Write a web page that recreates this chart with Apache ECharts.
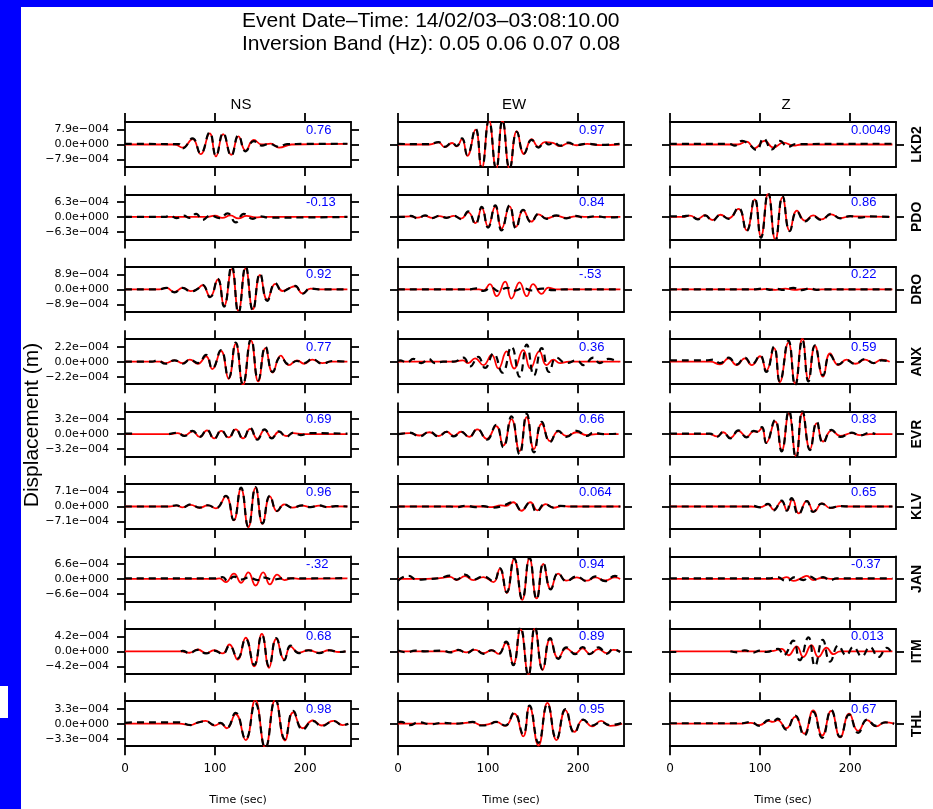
<!DOCTYPE html>
<html>
<head>
<meta charset="utf-8">
<script src="https://cdn.jsdelivr.net/npm/echarts@6/dist/echarts.min.js"></script>
<style>
  html, body { margin: 0; padding: 0; background: #ffffff; }
  #chart { width: 933px; height: 809px; }
</style>
</head>
<body>
<div id="chart"></div>
<script>
// ---- Stations (rows), components (columns) ----
const stations = ['LKD2', 'PDO', 'DRO', 'ANX', 'EVR', 'KLV', 'JAN', 'ITM', 'THL'];
const components = ['NS', 'EW', 'Z'];
// reference amplitude per station, units of 1e-4 m (tick label value)
const refAmp = [7.9, 6.3, 8.9, 2.2, 3.2, 7.1, 6.6, 4.2, 3.3];
// waveform fit values printed in each panel
const corrNS = ['0.76', '-0.13', '0.92', '0.77', '0.69', '0.96', '-.32', '0.68', '0.98'];
const corrEW = ['0.97', '0.84', '-.53', '0.36', '0.66', '0.064', '0.94', '0.89', '0.95'];
const corrZ  = ['0.0049', '0.86', '0.22', '0.59', '0.83', '0.65', '-0.37', '0.013', '0.67'];
const timeTicks = [0, 100, 200];

// ---- Traces: flat [time (s), displacement (1e-4 m)] pairs; null pair = gap ----
// observed (black dashed) and synthetic (red) for each station / component
const lkd2NsObs = [0,0.3, 60,0.2, 64,-2.0, 75,3.2, 84,-4.7, 94,6.3, 101,-6.0, 109,6.0, 118,-5.9, 126,4.8, 134,-3.6, 143,1.8, 152,-0.6, 160,0.3, 171,-1.2, 180,0.2, 200,0.3, 247,0.4];
const lkd2NsSyn = [0,0, 55,0, 64,-1.6, 75,2.8, 84,-5.1, 94,5.9, 101,-6.3, 109,5.5, 118,-5.5, 126,4.3, 134,-3.2, 143,2.4, 152,0, 162,0.5, 171,-1.6, 185,0, 247,0.3];
const lkd2EwObs = [0,0.3, 35,0.2, 45,1.3, 52,-1.2, 60,1.0, 65,-0.8, 71,3.2, 77,-5.5, 86,8.3, 93,-12.8, 101,12.8, 109,-12.8, 116,12.8, 124,-12.8, 132,6.6, 140,-4.7, 148.5,2.4, 156,-1.6, 163,1.0, 168,0, 173,1.2, 180,-0.6, 189,1.0, 198,-0.3, 210,0.4, 225,-0.2, 246,0.4];
const lkd2EwSyn = [0,0, 35,0, 45,1.1, 52,-1.4, 60,0.8, 65,-1.0, 71,2.8, 77,-6.0, 86,7.8, 93,-12.5, 101,12.8, 109,-12.8, 116,12.5, 124,-12.8, 132,7.0, 140,-5.0, 148.5,2.8, 156,-1.2, 163,1.3, 172,0.8, 180,-0.9, 189,0.6, 198,-0.4, 210,0.3, 225,-0.3, 246,0];
const lkd2ZObs  = [0,0.3, 66,0.3, 72,-0.6, 80,1.9, 88,0, 96,-2.9, 104,3.2, 113,-2.6, 122,1.9, 131,-1.2, 140,0.2, 247,0.4];
const lkd2ZSyn  = [0,0, 75,0, 85,1.5, 94,-2.0, 105,1.9, 115,-1.6, 126,1.0, 137,-0.6, 146,0, 247,0];

const pdoNsObs = [0,0, 44,0, 50,0.6, 57,-0.5, 65,0.5, 72,-0.4, 79,1.3, 86,-1.3, 95,0.6, 105,-0.5, 114,1.5, 123,-2.3, 132,1.3, 142,-0.8, 149,0.3, 160,-0.3, 247,0];
const pdoNsSyn = [0,0, 90,0, 100,0.5, 108,-0.4, 117,0.6, 126,-0.6, 135,0.4, 145,-0.2, 155,0, 247,0];
const pdoEwObs = [0,0, 10,0, 14,0.4, 22,-0.6, 30,0.6, 38,-0.5, 46,0.5, 54,-0.4, 62,0.5, 70,-0.9, 78,2.3, 86,-3.0, 93,4.2, 100,-4.5, 108,4.8, 115,-5.7, 124,4.8, 131,-4.8, 139,3.0, 148,-2.3, 156,1.3, 165,-0.8, 176,0.6, 187,-0.6, 197,0.4, 207,-0.3, 220,0.3, 232,-0.2, 247,0];
const pdoEwSyn = [0,0, 14,0.2, 22,-0.3, 30,0.4, 38,-0.4, 46,0.3, 54,-0.3, 62,0.4, 70,-0.7, 78,1.9, 86,-2.6, 93,3.8, 100,-4.1, 108,4.3, 115,-4.9, 124,4.4, 131,-4.2, 139,2.8, 148,-2.0, 156,1.1, 165,-0.6, 176,0.4, 187,-0.4, 197,0.2, 210,0, 247,0];
const pdoZObs  = [0,0.2, 14,0.2, 22,0.6, 31,-1.0, 39,0.6, 47,-1.6, 56,0.8, 65,-0.8, 76,3.8, 85,-6.0, 94,7.8, 101,-8.8, 109,10.2, 117,-10.2, 125,8.7, 133,-6.0, 141,2.3, 150,-1.9, 159,0.3, 168,-1.3, 179,1.3, 189,-0.6, 200,0.3, 211,-0.3, 222,0.2, 244,0];
const pdoZSyn  = [0,0, 14,0, 22,0.5, 31,-0.8, 39,0.7, 47,-1.3, 56,0.9, 65,-0.6, 76,3.4, 85,-5.6, 94,7.4, 101,-8.2, 109,9.8, 117,-9.6, 125,8.2, 133,-5.8, 141,2.6, 150,-1.6, 159,0.6, 168,-1.0, 179,1.1, 189,-0.5, 200,0.2, 244,0];

const droNsObs = [0,0, 38,0, 46,0.9, 55,-1.8, 64,0.9, 73,-1.3, 80,0, 86,2.7, 94.5,-4.7, 103,6.2, 110,-10.3, 118.5,14.0, 126,-14.0, 134,13.6, 142,-12.5, 150,9.3, 158,-6.9, 167,3.6, 175,-1.3, 182,0.5, 189,2.0, 197,-2.7, 206,0.5, 215,0, 247,0];
const droNsSyn = [0,0, 38,0, 46,0.8, 55,-1.6, 64,0.8, 73,-1.1, 80,0, 86,2.4, 94.5,-4.4, 103,5.8, 110,-9.8, 118.5,12.0, 126,-12.8, 134,12.4, 142,-11.8, 150,8.6, 158,-6.2, 167,3.2, 175,-1.0, 182,0.6, 189,1.8, 197,-2.4, 206,0.4, 215,0, 247,0];
const droEwObs = [0,0, 80,0, 87,0.6, 95,-0.9, 104,1.0, 111.5,-1.1, 121,0.9, 130,-0.8, 139,0.7, 148.5,-0.7, 160,0.4, 172.6,-0.5, 185,0, 247,0];
const droEwSyn = [0,0, 90,0, 95,-0.6, 102,3.1, 109.6,-4.1, 119,4.5, 126,-5.5, 135,4.1, 143,-4.1, 150,3.1, 159.6,-2.7, 167,1.0, 175,0, 247,0];
const droZObs  = [0,0, 95,0, 103.7,0.5, 111,-0.3, 118.5,0.3, 126,-0.4, 137,0.8, 146,-0.5, 155.5,0.5, 163,-0.3, 172,0, 247,0];
const droZSyn  = [0,0, 100,0, 108,0.3, 117,-0.3, 128,0.4, 138,-0.3, 150,0.3, 162,-0.2, 175,0, 247,0];

const anxNsObs = [0,0, 30,0, 36,0.2, 45,-0.3, 55,0.2, 64,-0.3, 72,0.3, 81,-0.2, 90,1.0, 97,-1.0, 106.6,1.7, 115,-2.4, 123,2.8, 131,-3.3, 140,3.3, 148,-2.7, 156,2.2, 164,-1.5, 173,0.7, 182,-0.4, 191,0.1, 199,-0.2, 208,0.4, 219,-0.3, 230,0.1, 247,0];
const anxNsSyn = [0,0, 40,0, 45,-0.2, 55,0.2, 64,-0.2, 72,0.3, 81,-0.3, 90,0.8, 97,-1.1, 106.6,1.6, 115,-2.5, 123,2.6, 131,-3.4, 140,3.1, 148,-2.9, 156,2.0, 164,-1.6, 173,0.9, 182,-0.5, 191,0.2, 199,-0.3, 208,0.3, 219,-0.2, 230,0, 247,0];
const anxEwObs = [0,0, 2,0.2, 10,-0.1, 17,0.4, 26,-0.2, 34,0.4, 41,-0.2, 50,0, 62,0, 72.6,0.6, 80,-0.7, 89,0.7, 96.7,-0.9, 106,1.2, 116,-1.6, 126,2.2, 135,-2.2, 143,2.5, 151,-2.0, 159.6,2.0, 168,-1.5, 176,0.6, 187,-0.2, 198.5,0.2, 206,-0.5, 217,0.6, 224,-0.2, 233.7,0.4, 245,-0.1];
const anxEwSyn = [0,0, 60,0, 72,0.2, 78,-0.2, 85.6,0.5, 94.8,-0.5, 104,1.0, 111.5,-1.0, 120.7,1.5, 129,-1.0, 139,1.7, 147,-1.0, 157,1.5, 165,-0.5, 172.6,0.3, 180,-0.2, 190,0, 247,0];
const anxZObs  = [0,0.2, 40,0.2, 48,0.3, 55.5,-0.2, 65,0.6, 74,-0.4, 83,0.6, 90.7,-0.4, 100,0.9, 107,-1.5, 115.5,2.2, 122,-2.9, 131.5,3.1, 139,-3.5, 147,3.2, 153.7,-2.9, 161,2.4, 170,-2.0, 177.8,1.0, 187,-0.4, 196,0.2, 205.6,-0.3, 216.7,0.4, 226,-0.2, 235,0.2, 244,0];
const anxZSyn  = [0,0, 45,0, 55.5,-0.4, 65,0.5, 74,-0.5, 83,0.5, 90.7,-0.5, 100,0.8, 107,-1.3, 115.5,2.0, 122,-3.0, 131.5,2.8, 139,-3.2, 147,3.4, 153.7,-2.6, 161,2.3, 170,-2.2, 177.8,1.2, 187,-0.5, 196,0.3, 205.6,-0.3, 216.7,0.3, 226,-0.2, 235,0.3, 244,0];

const evrNsObs = [0,0.1, 9,0.1, null,null, 49,0, 58,0.3, 66,-0.4, 75,0.7, 83,-0.6, 91,0.9, 99,-1.0, 107,0.8, 115,-0.8, 123,1.1, 131,-1.0, 139,1.3, 147,-1.2, 155,1.0, 163,-0.9, 171,0.6, 179,-0.6, 187,0.3, 195,-0.2, 205,0.2, 247,0.1];
const evrNsSyn = [0,0, 50,0, 58,0.2, 66,-0.3, 75,0.6, 83,-0.6, 91,0.8, 99,-0.9, 107,0.7, 115,-0.7, 123,1.0, 131,-0.9, 139,1.1, 147,-1.0, 155,0.9, 163,-0.8, 171,0.5, 179,-0.4, 187,0.2, 197,0, 247,0];
const evrEwObs = [0,0, 5,0.1, 13,0.3, 24,-0.5, 35,0.5, 45,-0.5, 54,0.5, 62,-0.5, 70,0.5, 79,-0.6, 88,1.1, 98.5,-1.2, 109,2.0, 117,-2.8, 126,3.8, 135,-4.3, 143,4.3, 151,-3.9, 159.6,2.6, 169,-1.7, 178,0.7, 187,-0.6, 198.5,0.7, 209.6,-0.4, 217,0.3, 228,0, 245,0.1];
const evrEwSyn = [0,0, 13,0.2, 24,-0.3, 35,0.4, 45,-0.4, 54,0.5, 62,-0.4, 70,0.5, 79,-0.6, 88,1.0, 98.5,-1.0, 109,1.7, 117,-2.4, 126,3.2, 135,-3.6, 143,3.6, 151,-3.2, 159.6,2.2, 169,-1.5, 178,0.6, 187,-0.4, 198.5,0.4, 209.6,-0.2, 220,0, 245,0];
const evrZObs  = [0,0.1, 44,0.1, 52,-0.6, 59,0.4, 67,-0.9, 76,0.8, 85,-0.7, 93,0.7, 97,0.5, 102,1.5, 107,-1.9, 116.7,3.0, 124,-3.7, 132,5.0, 140,-5.3, 147,5.0, 155.5,-3.4, 163,2.6, 170,-1.9, 179.6,0.9, 189,-0.6, 202,0.3, 211,-0.3, 222,0.3, 228,0];
const evrZSyn  = [0,0, 44,0, 52,-0.5, 59,0.4, 67,-0.8, 76,0.7, 85,-0.6, 93,0.6, 97,0.5, 102,1.3, 107,-1.8, 116.7,2.7, 124,-3.5, 132,4.4, 140,-4.7, 147,4.5, 155.5,-3.2, 163,2.3, 170,-1.6, 179.6,0.8, 189,-0.4, 202,0.2, 211,-0.2, 222,0, 247,0];

const klvNsObs = [0,0, 49,0, 57,0.6, 64,-0.5, 73,1.0, 82.7,-0.5, 92,0.6, 101,-0.8, 112,5.1, 120.7,-6.4, 128.8,8.9, 137,-9.6, 145,9.2, 152.8,-8.0, 161,5.1, 169,-2.1, 176.8,1.0, 186,-0.6, 197,0.5, 206,-0.3, 215.5,0.5, 224.7,-0.3, 234,0.2, 247,0];
const klvNsSyn = [0,0, 49,0, 57,0.4, 64,-0.4, 73,0.8, 82.7,-0.6, 92,0.5, 101,-0.9, 112,4.8, 120.7,-6.6, 128.8,8.6, 137,-9.8, 145,8.8, 152.8,-8.2, 161,4.8, 169,-2.3, 176.8,1.0, 186,-0.5, 197,0.4, 206,-0.2, 215.5,0.4, 224.7,-0.2, 234,0.1, 247,0];
const klvEwObs = [0,0, 58,0, 65,-0.3, 76,0.4, 85.6,-0.3, 94.8,0.2, 104,-0.5, 115,0.1, 128,2.0, 137,-1.8, 146.7,2.0, 154,-2.6, 163,1.2, 172.6,-0.5, 180,0.3, 191,0, 247,0];
const klvEwSyn = [0,0, 95,0, 104,-0.3, 114,0.5, 120,0.3, 128,2.0, 137,-2.0, 147,2.0, 155,-1.8, 164,1.1, 173,-0.6, 182,0.2, 192,0, 247,0];
const klvZObs  = [0,0, 85,0, 92,0.3, 100,-0.4, 109,1.2, 115,-1.8, 124,2.8, 129.6,-2.0, 135,4.0, 142.6,-3.7, 152,2.5, 159,-2.6, 168.5,1.4, 177.8,-0.6, 189,0.2, 200,0, 247,0];
const klvZSyn  = [0,0, 90,0, 100,-0.3, 109,1.0, 115,-1.5, 124,2.4, 130,-1.8, 136,3.5, 143,-3.3, 152,2.7, 160,-2.4, 169,1.5, 178,-0.7, 189,0.2, 200,0, 247,0];

const janNsObs = [0,0.2, 100,0.2, 108.5,0.8, 114,-0.9, 121,1.0, 128.8,-0.3, 138,0.6, 147,-0.5, 154.6,0.6, 164,-0.3, 175,0.2, 247,0.3];
const janNsSyn = [0,0, 100,0, 105,0.2, 112,-1.4, 121,2.3, 129,-1.7, 137,2.9, 145,-2.9, 153.5,2.9, 161,-2.4, 169,1.9, 177,-0.5, 186,0.3, 195,0, 247,0.2];
const janEwObs = [0,-0.8, 11.5,1.4, 20.7,-0.3, 32,-0.1, 46.7,0.4, 57.8,1.4, 65,-0.3, 74.4,1.9, 83.7,-0.3, 94.8,1.1, 106,-1.0, 113,4.8, 120.7,-5.9, 129,9.0, 138,-8.9, 146,9.4, 154,-8.9, 161.5,6.9, 169.6,-4.6, 178,2.6, 187,-1.0, 198.5,1.1, 209.6,-1.0, 219,1.1, 230,-1.0, 241,1.3, 246.7,0.3];
const janEwSyn = [0,0, 20,0, 32,0, 46.7,0.3, 57.8,0.9, 65,-0.5, 74.4,1.2, 83.7,-0.5, 94.8,0.8, 106,-1.4, 113,4.4, 120.7,-6.2, 129,8.8, 138,-9.2, 146,9.0, 154,-8.6, 161.5,6.6, 169.6,-4.4, 178,2.3, 187,-0.8, 198.5,0.7, 209.6,-0.8, 219,0.7, 230,-0.7, 241,0.7, 246.7,0];
const janZObs  = [0,0.2, 110,0.2, 118.5,0.8, 129.6,-0.9, 139,0.8, 148,-0.5, 155.5,1.0, 163,-0.3, 170,0.8, 177.8,-0.6, 185,0.2, 247,0.2];
const janZSyn  = [0,0, 115,0, 122,0, 129.6,0.8, 137,-0.9, 146,0.4, 152,1.3, 159,-0.5, 168.5,0.4, 178,0, 247,0];

const itmNsObs = [62,0, 64,0.1, 71.6,-0.5, 80.8,0.4, 90,-0.6, 99,0.2, 108.5,-0.7, 116,1.6, 125,-2.0, 134,3.5, 143.5,-3.8, 152,4.6, 160,-4.2, 168,3.7, 176.8,-2.5, 184,1.6, 193,-0.5, 204,0.3, 215.5,-0.5, 226.6,0.3, 237.6,-0.2, 245,0];
const itmNsSyn = [0,0, 62,0, 71.6,-0.4, 80.8,0.5, 90,-0.5, 99,0.3, 108.5,-0.6, 116,1.9, 125,-2.3, 134,3.8, 143.5,-4.2, 152,4.9, 160,-4.6, 168,3.5, 176.8,-2.3, 184,1.3, 193,-0.4, 204,0.3, 215.5,-0.4, 226.6,0.3, 237.6,-0.2, 245,0];
const itmEwObs = [0,0.2, 9.6,-0.3, 19,0.2, 30,0, 50,0.2, 57.8,-0.3, 67,0.4, 76,-0.5, 85.6,0.6, 94.8,-0.7, 104,0.3, 111.5,-0.8, 120,2.7, 128,-3.9, 136,6.8, 144.8,-6.8, 152,6.8, 160.7,-5.1, 169,3.7, 178,-2.1, 187,1.1, 196.7,-0.8, 205,1.2, 213,-0.8, 222.6,1.1, 231.8,-0.7, 239,0.6, 246.7,-0.2];
const itmEwSyn = [0,0, 50,0, 57.8,-0.2, 67,0.3, 76,-0.3, 85.6,0.4, 94.8,-0.5, 104,0.3, 111.5,-0.7, 120,2.4, 128,-3.6, 136,6.1, 144.8,-6.6, 152,6.4, 160.7,-5.2, 169,3.4, 178,-1.9, 187,0.8, 196.7,-0.6, 205,0.8, 213,-0.7, 222.6,0.6, 231.8,-0.5, 239,0.4, 246.7,0];
const itmZObs  = [0,-0.2, 7,-0.2, null,null, 67,0, 75,-0.3, 83,0.3, 92,-0.4, 100,0.2, 107,-0.2, 120,0.7, 126,-1.1, 137,3.0, 144,-2.5, 153.7,3.9, 161,-4.1, 169.6,3.2, 177.8,-2.9, 187,1.6, 195.6,-1.1, 203.7,1.2, 213,-1.4, 222,1.2, 231.5,-1.6, 240.7,1.0, 245,0];
const itmZSyn  = [0,0, 110,0, 115,0.1, 124,0.7, 131.5,-1.1, 140.7,1.4, 148,-1.6, 157,1.7, 164.8,-1.6, 174,1.0, 181.5,-0.8, 189,0, 247,0];

const thlNsObs = [0,0.2, 14,0.3, 40,0.3, 60,0.3, 73,-0.3, 80,0.2, 89.8,0.5, 99.6,-0.3, 106,0.2, 113,-0.9, 122.8,2.4, 134,-3.4, 144.6,4.5, 155.8,-5.3, 167,5.3, 177.6,-3.4, 186.8,2.8, 197.4,-1.3, 208.6,0.6, 218.5,-0.5, 231.7,0.6, 241.6,-0.3, 248,0];
const thlNsSyn = [0,0, 60,0, 73,-0.3, 80,0.2, 89.8,0.6, 99.6,-0.4, 106,0.1, 113,-1.0, 122.8,2.1, 134,-3.6, 144.6,5.2, 155.8,-5.3, 167,5.3, 177.6,-3.7, 186.8,2.5, 197.4,-1.0, 208.6,0.7, 218.5,-0.4, 231.7,0.6, 241.6,-0.3, 248,0];
const thlEwObs = [0,0.3, 3,0.4, 13,-0.3, 23,0.3, 36,-0.1, 50,0.2, 65,0, 75,0.2, 83,0.4, 92.7,-0.4, 101,-0.2, 109,0.4, 119,-0.4, 129,2.4, 139,-2.3, 146,4.0, 156,-4.2, 166,4.3, 176,-3.4, 186,3.2, 196,-2.0, 205.6,0.9, 215.6,-0.4, 225.6,0.3, 235.6,-0.3, 249,0.2];
const thlEwSyn = [0,0, 40,0, 65,0, 75,0.2, 83,0.3, 92.7,-0.3, 101,-0.1, 109,0.4, 119,-0.5, 129,2.2, 139,-2.8, 146,3.8, 156,-4.8, 166,4.6, 176,-3.6, 186,3.0, 196,-1.8, 205.6,0.9, 215.6,-0.6, 225.6,0.6, 235.6,-0.5, 249,0];
const thlZObs  = [0,0.1, 80,0.1, 89.5,0.4, 99.5,-0.5, 109.5,0.8, 114,0.5, 119.5,1.1, 129,-1.3, 139,1.8, 149,-2.6, 159,2.6, 169,-3.1, 179,3.0, 189,-2.9, 199,2.0, 209,-2.0, 219,0.9, 229,-0.5, 239,0.3, 249,0];
const thlZSyn  = [0,0, 80,0, 89.5,0.2, 99.5,-0.3, 109.5,0.6, 114,0.4, 119.5,0.8, 129,-1.0, 139,1.5, 149,-2.2, 159,2.9, 169,-2.6, 179,2.8, 189,-3.0, 199,2.2, 209,-1.6, 219,0.8, 229,-0.6, 239,0.3, 249,0];

// [observed, synthetic] per station, in component order NS, EW, Z
const traceTable = [
  [[lkd2NsObs, lkd2NsSyn], [lkd2EwObs, lkd2EwSyn], [lkd2ZObs, lkd2ZSyn]],
  [[pdoNsObs, pdoNsSyn], [pdoEwObs, pdoEwSyn], [pdoZObs, pdoZSyn]],
  [[droNsObs, droNsSyn], [droEwObs, droEwSyn], [droZObs, droZSyn]],
  [[anxNsObs, anxNsSyn], [anxEwObs, anxEwSyn], [anxZObs, anxZSyn]],
  [[evrNsObs, evrNsSyn], [evrEwObs, evrEwSyn], [evrZObs, evrZSyn]],
  [[klvNsObs, klvNsSyn], [klvEwObs, klvEwSyn], [klvZObs, klvZSyn]],
  [[janNsObs, janNsSyn], [janEwObs, janEwSyn], [janZObs, janZSyn]],
  [[itmNsObs, itmNsSyn], [itmEwObs, itmEwSyn], [itmZObs, itmZSyn]],
  [[thlNsObs, thlNsSyn], [thlEwObs, thlEwSyn], [thlZObs, thlZSyn]]
];
const corrTable = [corrNS, corrEW, corrZ];

// ---- Layout ----
const colLeft = [125, 398, 670];
const boxW = 226, boxH = 45;
const rowTop0 = 122, rowPitch = 72.4;
const tMax = 251;
const frame = { color: '#000000', width: 1.8 };

function toPairs(flat) {
  const out = [];
  for (let i = 0; i < flat.length; i += 2) {
    if (flat[i] === null) out.push(['-', '-']);
    else out.push([flat[i], flat[i + 1]]);
  }
  return out;
}

// R-style scientific label, e.g. 7.9e-004
function sciLabel(v) {
  if (Math.abs(v) < 1e-9) return '0.0e+000';
  const s = (v * 1e-4).toExponential(1);
  const parts = s.split('e');
  let mant = parts[0];
  const expSign = parts[1][0] === '-' ? '\u2212' : '+';
  const expDigits = parts[1].replace(/^[+-]/, '').padStart(3, '0');
  if (mant[0] === '-') mant = '\u2212' + mant.slice(1);
  return mant + 'e' + expSign + expDigits;
}

const grids = [], xAxes = [], yAxes = [], series = [], graphics = [];
const lastRow = stations.length - 1;

stations.forEach(function (st, r) {
  const A = refAmp[r];
  const top = rowTop0 + r * rowPitch;
  components.forEach(function (comp, k) {
    const gi = grids.length;
    grids.push({ left: colLeft[k], top: top, width: boxW, height: boxH, outerBoundsMode: 'none', containLabel: false });
    const yTicks = k === 0 ? [-A, 0, A] : [0];
    // bottom time axis
    xAxes.push({
      gridIndex: gi, type: 'value', position: 'bottom', min: 0, max: tMax,
      axisLine: { show: true, onZero: false, lineStyle: frame },
      axisTick: { show: true, inside: false, length: 9, customValues: timeTicks, lineStyle: frame },
      axisLabel: { show: r === lastRow, customValues: timeTicks, margin: 17, color: '#000',
        fontFamily: 'DejaVu Sans', fontSize: 12 },
      splitLine: { show: false },
      name: r === lastRow ? 'Time (sec)' : '', nameLocation: 'middle', nameGap: 48,
      nameTextStyle: { color: '#000', fontFamily: 'DejaVu Sans', fontSize: 11 }
    });
    // top time axis (ticks only)
    xAxes.push({
      gridIndex: gi, type: 'value', position: 'top', min: 0, max: tMax,
      axisLine: { show: true, onZero: false, lineStyle: frame },
      axisTick: { show: true, inside: false, length: 9, customValues: timeTicks, lineStyle: frame },
      axisLabel: { show: false }, splitLine: { show: false }
    });
    // left displacement axis
    yAxes.push({
      gridIndex: gi, type: 'value', position: 'left', min: -1.5 * A, max: 1.5 * A,
      axisLine: { show: true, onZero: false, lineStyle: frame },
      axisTick: { show: true, inside: false, length: 8, customValues: yTicks, lineStyle: frame },
      axisLabel: { show: k === 0, customValues: yTicks, margin: 16, color: '#000',
        fontFamily: 'DejaVu Sans', fontSize: 11, formatter: sciLabel },
      splitLine: { show: false }
    });
    // right displacement axis (ticks only)
    yAxes.push({
      gridIndex: gi, type: 'value', position: 'right', min: -1.5 * A, max: 1.5 * A,
      axisLine: { show: true, onZero: false, lineStyle: frame },
      axisTick: { show: true, inside: false, length: 8, customValues: yTicks, lineStyle: frame },
      axisLabel: { show: false }, splitLine: { show: false }
    });
    const pair = traceTable[r][k];
    // synthetic: red solid
    series.push({
      type: 'line', xAxisIndex: 2 * gi, yAxisIndex: 2 * gi, data: toPairs(pair[1]),
      showSymbol: false, symbol: 'none', smooth: 0.5, clip: true, silent: true, z: 2,
      lineStyle: { color: '#ff0000', width: 1.8 }
    });
    // observed: black dashed
    series.push({
      type: 'line', xAxisIndex: 2 * gi, yAxisIndex: 2 * gi, data: toPairs(pair[0]),
      showSymbol: false, symbol: 'none', smooth: 0.5, clip: true, silent: true, z: 3,
      connectNulls: false,
      lineStyle: { color: '#000000', width: 2.2, type: [7, 5] }
    });
    // fit value, upper right of the panel
    graphics.push({
      type: 'text', x: colLeft[k] + 200 * boxW / tMax + 1, y: top + 1.5,
      style: { text: corrTable[k][r], fill: '#0000ff',
        font: '13px "Liberation Sans Narrow", "Liberation Sans", Arial, sans-serif',
        textAlign: 'left', textVerticalAlign: 'top', align: 'left', verticalAlign: 'top' }
    });
  });
  // station name on the right, reading upward
  graphics.push({
    type: 'text', x: 917, y: top + boxH / 2, rotation: Math.PI / 2,
    style: { text: st, fill: '#000', font: 'bold 14px "Liberation Sans", Arial, sans-serif',
      textAlign: 'center', textVerticalAlign: 'middle', align: 'center', verticalAlign: 'middle' }
  });
});

// component headers
components.forEach(function (comp, k) {
  graphics.push({
    type: 'text', x: colLeft[k] + boxW / 2 + 3, y: 105,
    style: { text: comp, fill: '#000', font: '15px "Liberation Sans", Arial, sans-serif',
      textAlign: 'center', textVerticalAlign: 'middle', align: 'center', verticalAlign: 'middle' }
  });
});

// page frame bands
graphics.push({ type: 'rect', shape: { x: 0, y: 0, width: 933, height: 7 }, style: { fill: '#0000ff' }, z: 10 });
graphics.push({ type: 'rect', shape: { x: 0, y: 0, width: 21, height: 809 }, style: { fill: '#0000ff' }, z: 10 });
graphics.push({ type: 'rect', shape: { x: 0, y: 686, width: 8, height: 32 }, style: { fill: '#ffffff' }, z: 11 });

// headings
graphics.push({
  type: 'text', x: 242, y: 21,
  style: { text: 'Event Date\u2013Time: 14/02/03\u201303:08:10.00', fill: '#000',
    font: '21px "Liberation Sans", Arial, sans-serif',
    textAlign: 'left', textVerticalAlign: 'middle', align: 'left', verticalAlign: 'middle' }
});
graphics.push({
  type: 'text', x: 242, y: 44,
  style: { text: 'Inversion Band (Hz): 0.05 0.06 0.07 0.08', fill: '#000',
    font: '21px "Liberation Sans", Arial, sans-serif',
    textAlign: 'left', textVerticalAlign: 'middle', align: 'left', verticalAlign: 'middle' }
});
graphics.push({
  type: 'text', x: 32, y: 425, rotation: Math.PI / 2,
  style: { text: 'Displacement (m)', fill: '#000', font: '21px "Liberation Sans", Arial, sans-serif',
    textAlign: 'center', textVerticalAlign: 'middle', align: 'center', verticalAlign: 'middle' }
});

const chart = echarts.init(document.getElementById('chart'), null, { renderer: 'canvas', width: 933, height: 809 });
chart.setOption({
  backgroundColor: '#ffffff',
  animation: false,
  grid: grids,
  xAxis: xAxes,
  yAxis: yAxes,
  series: series,
  graphic: graphics
});
</script>
</body>
</html>
